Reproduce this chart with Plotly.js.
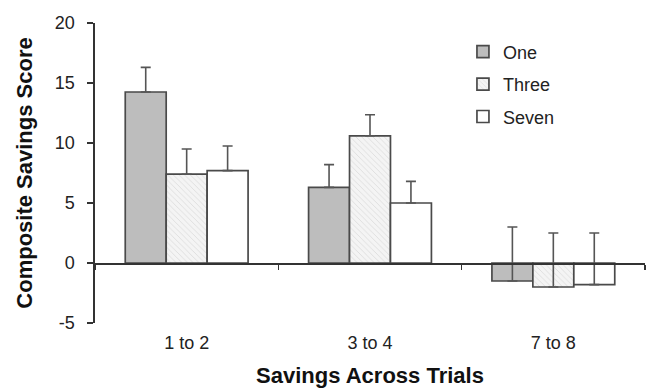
<!DOCTYPE html>
<html>
<head>
<meta charset="utf-8">
<script src="https://cdn.plot.ly/plotly-3.0.1.min.js"></script>
<style>
  html, body { margin: 0; padding: 0; background: #ffffff; }
  #chart { width: 649px; height: 388px; }
</style>
</head>
<body>
<div id="chart"></div>
<script>
// Trial blocks on the x axis
const trialBlocks = ["1 to 2", "3 to 4", "7 to 8"];

// Mean composite savings score per condition
const oneScores   = [14.25, 6.3, -1.5];
const threeScores = [7.4, 10.6, -2.0];
const sevenScores = [7.7, 5.0, -1.8];

// Upper error bar lengths per condition
const oneErr   = [2.05, 1.9, 4.5];
const threeErr = [2.1, 1.75, 4.5];
const sevenErr = [2.05, 1.8, 4.3];

const yTicks = [-5, 0, 5, 10, 15, 20];
const yTickText = ["-5", "0", "5", "10", "15", "20"];

const FONT = "Liberation Sans, Arial, Helvetica, sans-serif";
const EDGE = "#4a4a4a";

function errorSpec(values) {
  return {
    type: "data",
    symmetric: false,
    array: values,
    arrayminus: values.map(() => 0),
    color: "#555555",
    thickness: 1.6,
    width: 5
  };
}

const traces = [
  {
    type: "bar", name: "One", x: trialBlocks, y: oneScores,
    legendgroup: "one",
    marker: { color: "#bdbdbd", line: { color: EDGE, width: 1.7 } },
    error_y: errorSpec(oneErr)
  },
  {
    type: "bar", name: "Three", x: trialBlocks, y: threeScores,
    legendgroup: "three",
    marker: {
      color: "#f1f1f1",
      line: { color: EDGE, width: 1.7 },
      pattern: { shape: "\\", fgcolor: "#dadada", bgcolor: "#f4f4f4", size: 4, solidity: 0.2 }
    },
    error_y: errorSpec(threeErr)
  },
  {
    type: "bar", name: "Seven", x: trialBlocks, y: sevenScores,
    legendgroup: "seven",
    marker: { color: "#ffffff", line: { color: EDGE, width: 1.7 } },
    error_y: errorSpec(sevenErr)
  }
];

const layout = {
  width: 649,
  height: 388,
  margin: { l: 95, r: 4, t: 23, b: 65 },
  paper_bgcolor: "#ffffff",
  plot_bgcolor: "#ffffff",
  font: { family: FONT, size: 17, color: "#222222" },
  barmode: "group",
  bargap: 0.33,
  bargroupgap: 0,
  showlegend: true,
  legend: {
    x: 0.669, xanchor: "left",
    y: 0.965, yanchor: "top",
    font: { family: FONT, size: 18, color: "#222222" },
    tracegroupgap: 6,
    bgcolor: "rgba(0,0,0,0)"
  },
  xaxis: {
    type: "category",
    anchor: "free",
    position: 0.2,
    showline: true,
    linecolor: "#333333",
    linewidth: 1.6,
    tickson: "boundaries",
    ticks: "outside",
    ticklen: 5,
    tickwidth: 1.6,
    tickcolor: "#333333",
    ticklabelstandoff: 63,
    showgrid: false,
    zeroline: false,
    tickfont: { family: FONT, size: 18, color: "#222222" },
    title: {
      text: "Savings Across Trials",
      font: { family: FONT, size: 22, weight: 700, color: "#111111" },
      standoff: 15
    }
  },
  yaxis: {
    range: [-5, 20],
    tickvals: yTicks,
    ticktext: yTickText,
    ticks: "outside",
    ticklen: 6,
    tickwidth: 1.6,
    tickcolor: "#333333",
    ticklabelstandoff: 9,
    showline: true,
    linecolor: "#333333",
    linewidth: 1.6,
    showgrid: false,
    zeroline: false,
    tickfont: { family: FONT, size: 18, color: "#222222" },
    title: {
      text: "Composite Savings Score",
      font: { family: FONT, size: 22, weight: 700, color: "#111111" },
      standoff: 16
    }
  }
};

Plotly.newPlot("chart", traces, layout, { displayModeBar: false, staticPlot: true });
</script>
</body>
</html>
